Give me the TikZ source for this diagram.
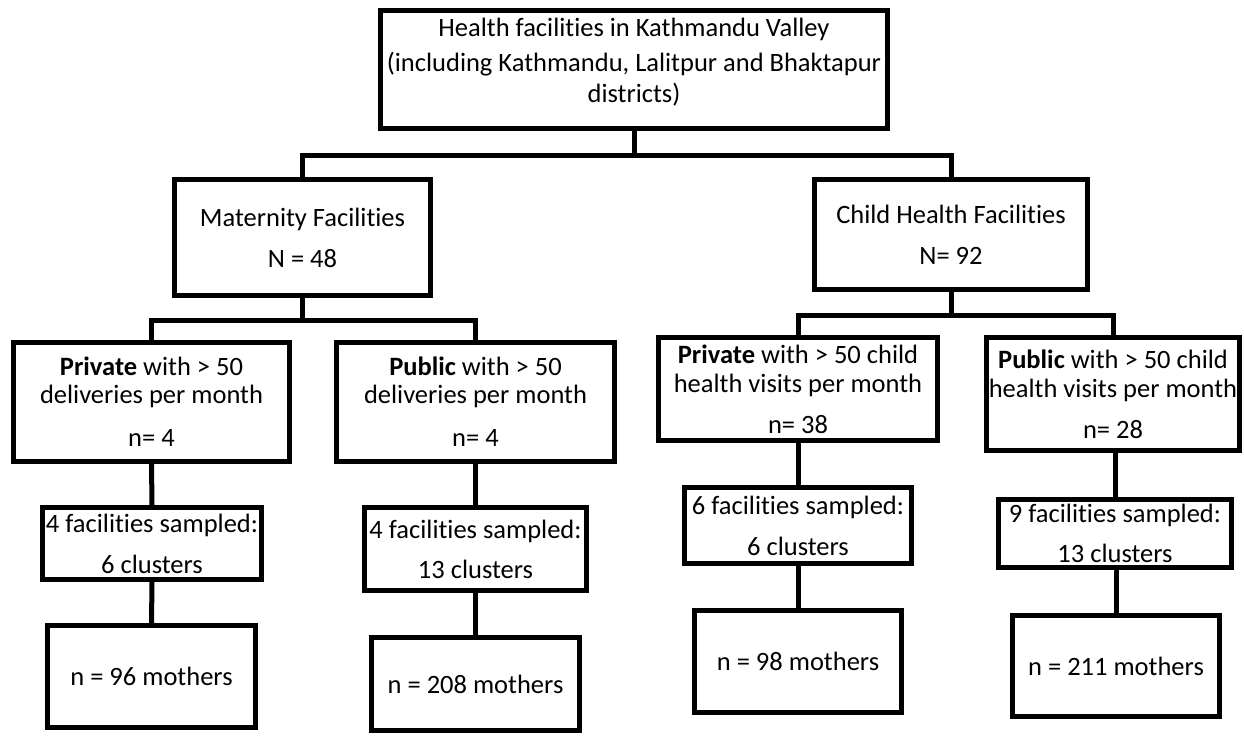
\documentclass[tikz,border=0pt]{standalone}
\usepackage{fontspec}
\setmainfont{Carlito}[Ligatures={NoCommon,NoRare}]
\usetikzlibrary{calc}
\begin{document}
\begin{tikzpicture}[x=1pt,y=-1pt,
 box/.style={draw=black, line width=5pt, rectangle, inner sep=0pt, align=center,
   font=\fontsize{26.5}{31}\selectfont, line join=miter},
 conn/.style={draw=black, line width=5pt, line join=miter}]
\useasboundingbox (0,0) rectangle (1244,736);

\node[box, minimum width=507, minimum height=118] (top) at (634,69.5)
 {Health facilities in Kathmandu Valley\\[4pt]\makebox[0pt]{(including Kathmandu, Lalitpur and Bhaktapur}\\ districts)\\[-12pt]{}};

\node[box, minimum width=256, minimum height=116] (mat) at (302.5,237.5) {Maternity Facilities\\[10pt] N = 48};
\node[box, minimum width=273, minimum height=110] (child) at (951,234.5) {Child Health Facilities\\[10pt] N= 92};

\node[box, minimum width=276, minimum height=119] (pm) at (151.5,402) {\textbf{Private} with > 50\\[-3pt] deliveries per month\\[12pt] n= 4};
\node[box, minimum width=278, minimum height=119] (pubm) at (475.5,402) {\textbf{Public} with > 50\\[-3pt] deliveries per month\\[12pt] n= 4};
\node[box, minimum width=279, minimum height=103] (pc) at (798,389) {\textbf{Private} with > 50 child\\[-2pt] health visits per month\\[10pt] n= 38};
\node[box, minimum width=253, minimum height=113] (pubc) at (1113,394) {\textbf{Public} with > 50 child\\[-2pt] \makebox[0pt]{health visits per month}\\[10pt] n= 28};

\node[box, minimum width=219, minimum height=72] (s1) at (152,543.5) {\makebox[0pt]{4 facilities sampled:}\\[10pt] 6 clusters};
\node[box, minimum width=222, minimum height=83] (s2) at (475.5,549) {4 facilities sampled:\\[9pt] 13 clusters};
\node[box, minimum width=227, minimum height=76] (s3) at (798,525.5) {6 facilities sampled:\\[10pt] 6 clusters};
\node[box, minimum width=233, minimum height=68] (s4) at (1115,533.5) {9 facilities sampled:\\[9pt] 13 clusters};

\node[box, minimum width=208, minimum height=102] (m1) at (151.5,676.5) {n = 96 mothers};
\node[box, minimum width=208, minimum height=93] (m2) at (475.5,684) {n = 208 mothers};
\node[box, minimum width=207, minimum height=102] (m3) at (798,661.5) {n = 98 mothers};
\node[box, minimum width=207, minimum height=101] (m4) at (1116,666) {n = 211 mothers};

\draw[conn] (top.south) -- ++(0,24) -| (mat.north);
\draw[conn] (top.south) -- ++(0,24) -| (child.north);
\draw[conn] (mat.south) -- ++(0,22.5) -| (pm.north);
\draw[conn] (mat.south) -- ++(0,22.5) -| (pubm.north);
\draw[conn] (child.south) -- ++(0,23.5) -| (pc.north);
\draw[conn] (child.south) -- ++(0,23.5) -| (pubc.north);

\draw[conn] (pm.south) -- (s1.north);
\draw[conn] (s1.south) -- (m1.north);
\draw[conn] (pubm.south) -- (s2.north);
\draw[conn] (s2.south) -- (m2.north);
\draw[conn] (pc.south) -- (s3.north);
\draw[conn] (s3.south) -- (m3.north);
\draw[conn] (s4.north |- pubc.south) -- (s4.north);
\draw[conn] (s4.south) -- (s4.south -| m4.north) -- (m4.north);
\end{tikzpicture}
\end{document}
